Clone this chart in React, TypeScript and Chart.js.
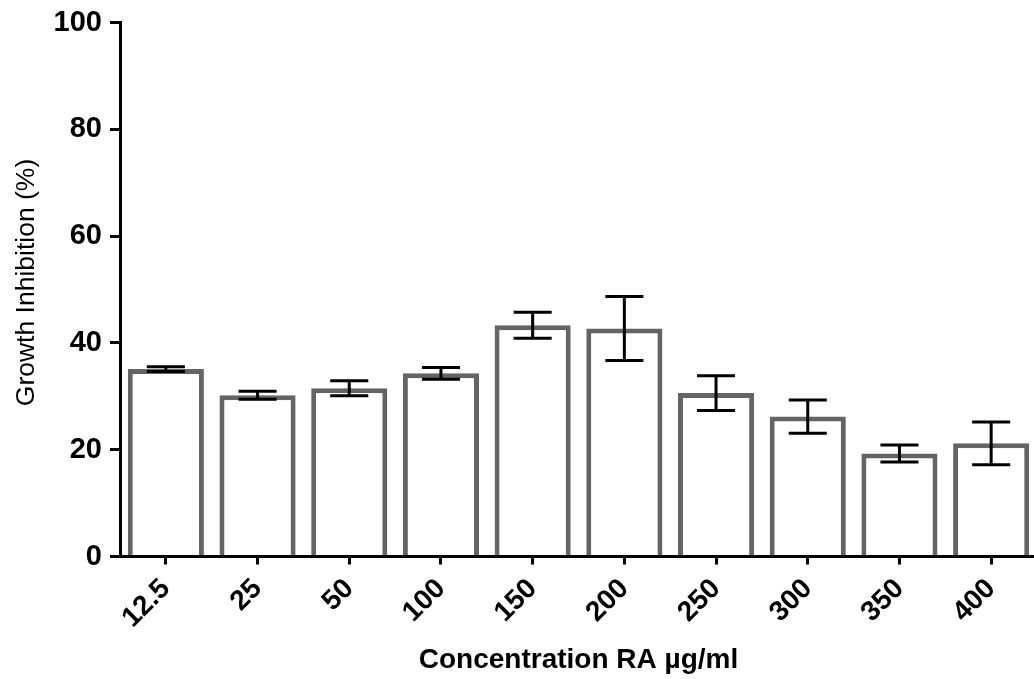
import React, { useEffect, useRef } from 'react';
import { Chart, registerables } from 'chart.js';

Chart.register(...registerables);

const categories = ['12.5', '25', '50', '100', '150', '200', '250', '300', '350', '400'];
const means = [35.1, 30.2, 31.5, 34.3, 43.3, 42.7, 30.6, 26.2, 19.3, 21.2];
const errors = [0.45, 0.75, 1.4, 1.1, 2.45, 6.0, 3.25, 3.1, 1.6, 4.0];
const yTicks = [0, 20, 40, 60, 80, 100];

const xTitle = 'Concentration RA µg/ml';
const yTitle = 'Growth Inhibition (%)';

const FONT = '"Liberation Sans", Arial, Helvetica, sans-serif';
const CANVAS_W = 1045;
const CANVAS_H = 679;

const errorBarPlugin = {
  id: 'errorBars',
  afterDatasetsDraw(chart: any) {
    const { ctx } = chart;
    const meta = chart.getDatasetMeta(0);
    const y = chart.scales.y;
    ctx.save();
    ctx.strokeStyle = '#000000';
    ctx.lineWidth = 3;
    ctx.lineCap = 'butt';
    meta.data.forEach((bar: any, i: number) => {
      const x = bar.x;
      const top = y.getPixelForValue(means[i] + errors[i]);
      const bot = y.getPixelForValue(means[i] - errors[i]);
      const half = bar.width * 0.25;
      ctx.beginPath();
      ctx.moveTo(x, top);
      ctx.lineTo(x, bot);
      ctx.moveTo(x - half, top);
      ctx.lineTo(x + half, top);
      ctx.moveTo(x - half, bot);
      ctx.lineTo(x + half, bot);
      ctx.stroke();
    });
    ctx.restore();
  },
};

// y-axis title drawn as canvas text, positioned beside the axis
const yTitlePlugin = {
  id: 'yTitle',
  afterDraw(chart: any) {
    const { ctx, chartArea } = chart;
    ctx.save();
    ctx.fillStyle = '#000000';
    ctx.font = `normal 26.5px ${FONT}`;
    ctx.textAlign = 'center';
    ctx.textBaseline = 'middle';
    ctx.translate(27, (chartArea.top + chartArea.bottom) / 2 - 7);
    ctx.rotate(-Math.PI / 2);
    ctx.fillText(yTitle, 0, 0);
    ctx.restore();
  },
};

export default function App() {
  const ref = useRef<HTMLCanvasElement | null>(null);

  useEffect(() => {
    if (!ref.current) return;
    const chart = new Chart(ref.current, {
      type: 'bar',
      data: {
        labels: categories,
        datasets: [
          {
            data: means,
            backgroundColor: '#ffffff',
            borderColor: '#646464',
            borderWidth: 5,
            categoryPercentage: 1,
            barPercentage: 0.83,
          },
        ],
      },
      options: {
        animation: false,
        responsive: false,
        devicePixelRatio: 1,
        layout: { padding: { left: 0, right: 8, top: -2, bottom: 0 } },
        plugins: {
          legend: { display: false },
          tooltip: { enabled: false },
        },
        scales: {
          x: {
            type: 'category',
            grid: {
              display: true,
              drawOnChartArea: false,
              drawTicks: true,
              offset: false,
              tickLength: 8,
              tickWidth: 3,
              color: '#000000',
              lineWidth: 3,
            },
            border: { display: true, color: '#000000', width: 3 },
            ticks: {
              color: '#000000',
              font: { family: FONT, size: 28, weight: 'bold' },
              minRotation: 45,
              maxRotation: 45,
              autoSkip: false,
              padding: 8,
            },
            title: {
              display: true,
              text: xTitle,
              color: '#000000',
              font: { family: FONT, size: 28, weight: 'bold' },
              padding: { top: 0, bottom: 2 },
            },
            afterFit(scale: any) {
              scale.height = 122.5;
            },
          },
          y: {
            min: 0,
            max: 100,
            grid: {
              display: true,
              drawOnChartArea: false,
              drawTicks: true,
              tickLength: 10,
              tickWidth: 3,
              color: '#000000',
              lineWidth: 3,
            },
            border: { display: true, color: '#000000', width: 3 },
            ticks: {
              color: '#000000',
              font: { family: FONT, size: 29, weight: 'bold', lineHeight: 1 },
              padding: 8,
            },
            afterBuildTicks(scale: any) {
              scale.ticks = yTicks.map((v) => ({ value: v }));
            },
            title: { display: false, text: yTitle },
            afterFit(scale: any) {
              scale.width = 120;
            },
          },
        },
      },
      plugins: [errorBarPlugin, yTitlePlugin],
    });
    return () => chart.destroy();
  }, []);

  return (
    <div
      style={{
        position: 'fixed',
        left: 0,
        top: 0,
        width: 1034,
        height: 679,
        overflow: 'hidden',
        background: '#ffffff',
      }}
    >
      <canvas ref={ref} width={CANVAS_W} height={CANVAS_H} style={{ display: 'block' }} />
    </div>
  );
}
